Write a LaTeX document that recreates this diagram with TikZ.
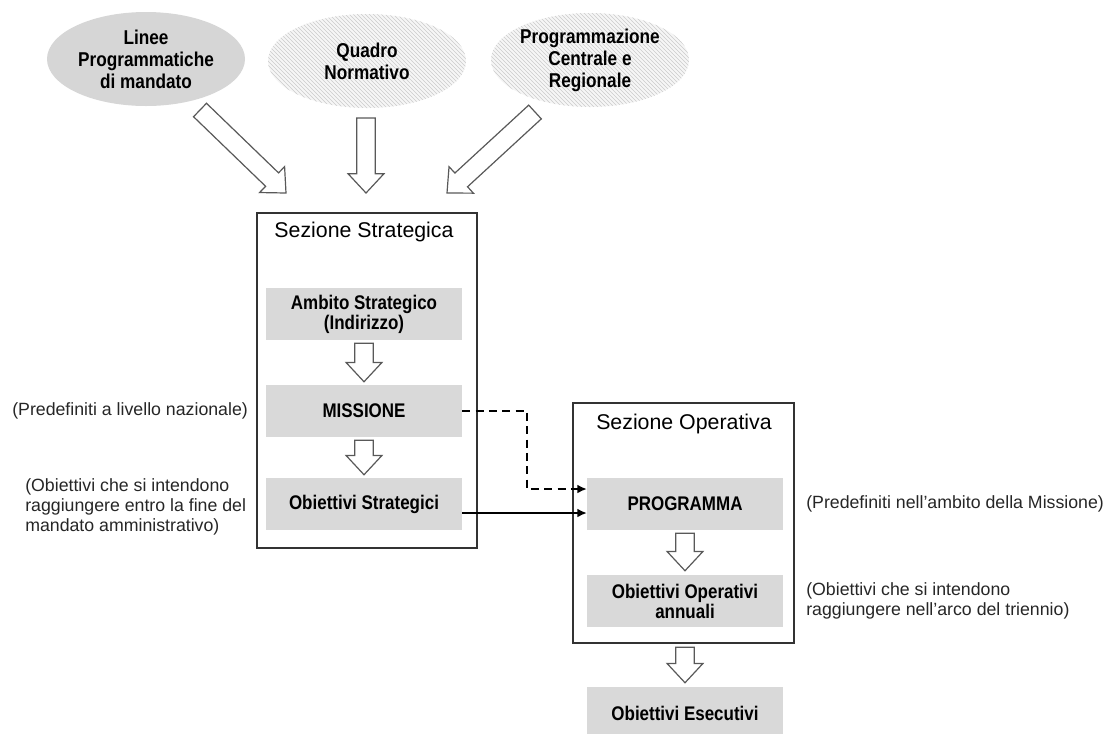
\documentclass[tikz,border=0pt]{standalone}
\usepackage{fontspec}
\setmainfont{Liberation Sans}
\newfontfamily\narrowbf[FakeStretch=0.86]{Liberation Sans}
\usetikzlibrary{calc,shapes.geometric,arrows.meta,patterns}

\tikzset{
  oval/.style={ellipse,minimum width=148.5pt,minimum height=70.5pt,inner sep=0pt,align=center,
    font=\narrowbf\bfseries\fontsize{15}{16.5}\selectfont},
  ovalsolid/.style={oval,fill=gray!32},
  ovalhatch/.style={oval,preaction={fill=gray!7},pattern=north west lines,pattern color=gray!40},
  graybox/.style={fill=gray!30,minimum width=147pt,minimum height=39pt,inner sep=0pt,align=center,
    font=\narrowbf\bfseries\fontsize{14.8}{15}\selectfont},
  framebox/.style={draw=black!80,line width=0.9pt,inner sep=0pt},
  title/.style={font=\fontsize{16}{19}\selectfont},
  annot/.style={align=left,inner sep=0pt,font=\fontsize{13.3}{15}\selectfont,text=black!85},
  hollowarr/.style={draw=black!65,line width=0.9pt,fill=white,line join=miter},
  link/.style={line width=1.1pt,-{Latex[length=7pt,width=6.5pt]}}
}
% hollow block arrow from tail #1 to tip #2
\newcommand\hollowarrow[2]{%
  \coordinate (hb) at ($(#2)!14.5pt!(#1)$);
  \draw[hollowarr] ($(#1)!7pt!90:(#2)$) -- ($(hb)!7pt!90:(#2)$) -- ($(hb)!13.5pt!90:(#2)$) -- (#2)
    -- ($(hb)!13.5pt!-90:(#2)$) -- ($(hb)!7pt!-90:(#2)$) -- ($(#1)!7pt!-90:(#2)$) -- cycle;}

\begin{document}
\begin{tikzpicture}[x=0.75pt,y=-0.75pt]
\useasboundingbox (0,0) rectangle (1106,733);
% sources
\node[ovalsolid] (lin) at (146,59) {Linee\\Programmatiche\\di mandato};
\node[ovalhatch] (qua) at (367,61) {Quadro\\Normativo};
\node[ovalhatch] (pcr) at (590,60) {Programmazione\\Centrale e\\Regionale};
\coordinate (a1t) at (200,110); \coordinate (a1h) at (286,193);
\coordinate (a2t) at (366,118); \coordinate (a2h) at (366,193);
\coordinate (a3t) at (535,112); \coordinate (a3h) at (447,193);
\hollowarrow{a1t}{a1h}
\hollowarrow{a2t}{a2h}
\hollowarrow{a3t}{a3h}
% Sezione Strategica
\node[framebox,minimum width=165pt,minimum height=251.25pt] (ss) at (367,380.5) {};
\node[title] (sst) at (364,232) {Sezione Strategica};
\node[graybox] (amb) at (364,314) {Ambito Strategico\\(Indirizzo)};
\node[graybox] (mis) at (364,411) {MISSIONE};
\node[graybox] (obs) at (364,504) {Obiettivi Strategici};
\coordinate (s1t) at ($(amb.south)+(0,3)$); \coordinate (s1h) at ($(mis.north)+(0,-3)$);
\coordinate (s2t) at ($(mis.south)+(0,3)$); \coordinate (s2h) at ($(obs.north)+(0,-3)$);
\hollowarrow{s1t}{s1h}
\hollowarrow{s2t}{s2h}
% Sezione Operativa
\node[framebox,minimum width=165.75pt,minimum height=180pt] (so) at (683.5,523) {};
\node[title] (sot) at (684,424) {Sezione Operativa};
\node[graybox] (prog) at (685,504) {PROGRAMMA};
\node[graybox] (ooa) at (685,601) {Obiettivi Operativi\\annuali};
\node[graybox] (exe) at (685,713) {Obiettivi Esecutivi};
\coordinate (s3t) at ($(prog.south)+(0,3)$); \coordinate (s3h) at ($(ooa.north)+(0,-4)$);
\coordinate (s4t) at ($(ooa.south)+(0,20)$); \coordinate (s4h) at ($(exe.north)+(0,-4)$);
\hollowarrow{s3t}{s3h}
\hollowarrow{s4t}{s4h}
% links
\coordinate (dk) at (527,489);
\draw[link,dash pattern=on 6pt off 4pt] (mis.east) -| (dk) -- (dk -| prog.west);
\coordinate (sl) at ($(obs.east)+(0,9)$);
\draw[link] (sl) -- (sl -| prog.west);
% notes
\node[annot,anchor=west] (n1) at (12,411) {(Predefiniti a livello nazionale)};
\node[annot,anchor=west] (n2) at (25,507) {(Obiettivi che si intendono\\raggiungere entro la fine del\\mandato amministrativo)};
\node[annot,anchor=west] (n3) at (806,504) {(Predefiniti nell'ambito della Missione)};
\node[annot,anchor=west] (n4) at (806,601) {(Obiettivi che si intendono\\raggiungere nell'arco del triennio)};
\end{tikzpicture}
\end{document}
